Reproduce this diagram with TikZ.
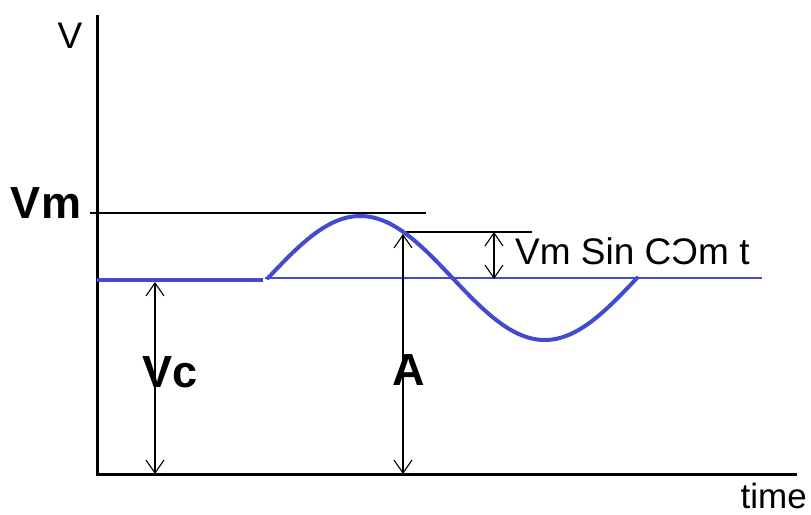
\documentclass[tikz,border=0pt]{standalone}
\usepackage{fontspec}
\setmainfont{Liberation Sans}
\usepackage{graphicx}
\usetikzlibrary{arrows.meta}
\definecolor{wave}{RGB}{66,74,206}
\tikzset{
  axis/.style={line width=3pt,black},
  thin/.style={line width=1.3pt,black},
  dim/.style={line width=1.1pt,black,{Straight Barb[length=13pt,width=18pt]}-{Straight Barb[length=13pt,width=18pt]}},
  lbl/.style={inner sep=0pt,font=\fontsize{37}{40}\selectfont},
  blbl/.style={inner sep=0pt,font=\fontsize{45}{48}\selectfont\bfseries},
}
\begin{document}
\begin{tikzpicture}[x=1pt,y=-1pt]
\useasboundingbox (0,0) rectangle (811,514);
% axes
\coordinate (top) at (97,15);
\coordinate (origin) at (97,474);
\coordinate (right) at (797,474);
\draw[axis] (top) -- (origin) -- (right);
% labels
\node[lbl] (V) at (70,36) {V};
\node[lbl,anchor=base east,font=\fontsize{35}{38}\selectfont] (time) at (807,508) {time};
\node[blbl] (Vm) at (46,203) {Vm};
\node[blbl] (Vc) at (170,372) {Vc};
\node[blbl] (A) at (409,370) {A};
\node[lbl,anchor=west] (eq) at (515,251) {Vm Sin C\reflectbox{C}m t};
% reference lines
\coordinate (vm0) at (90,213);
\coordinate (vm1) at (426,213);
\draw[thin] (vm0) -- (vm1);
\coordinate (p0) at (402,232);
\coordinate (p1) at (532,232);
\draw[thin] (p0) -- (p1);
% DC level
\coordinate (dc0) at (97,280);
\coordinate (dc1) at (263,280);
\draw[wave,line width=4pt] (dc0) -- (dc1);
\coordinate (b0) at (265,278);
\coordinate (b1) at (762,278);
\draw[wave,line width=1.5pt] (b0) -- (b1);
% sine wave
\draw[wave,line width=4pt,line cap=round] plot[domain=0:369,samples=120,smooth] ({268+\x},{278-62*sin(\x/369*360)});
% dimension arrows
\coordinate (vcT) at (155,282);
\coordinate (vcB) at (155,474);
\draw[dim] (vcT) -- (vcB);
\coordinate (aT) at (403,234);
\coordinate (aB) at (403,474);
\draw[dim] (aT) -- (aB);
\coordinate (sT) at (494,232);
\coordinate (sB) at (494,279);
\draw[dim] (sT) -- (sB);
\end{tikzpicture}
\end{document}
